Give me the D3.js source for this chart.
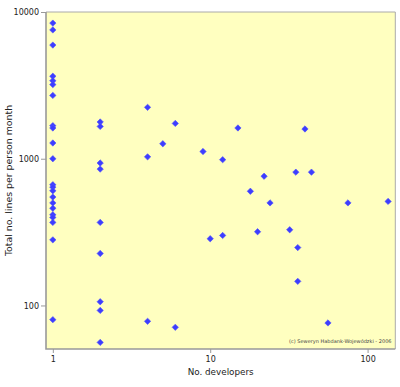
<!DOCTYPE html>
<html>
<head>
<meta charset="utf-8">
<script src="https://cdn.jsdelivr.net/npm/d3@7"></script>
<style>
  html, body { margin: 0; padding: 0; background: #ffffff; }
  svg { display: block; font-family: "DejaVu Sans", Verdana, sans-serif; }
</style>
</head>
<body>
<svg id="chart" width="400" height="387"></svg>
<script>
// Data: number of developers vs total lines per person month
const developers = [
  1, 1, 1, 1, 1, 1, 1, 1, 1, 1, 1, 1, 1, 1, 1, 1, 1, 1, 1, 1, 1, 1,
  2, 2, 2, 2, 2, 2, 2, 2, 2,
  4, 4, 4,
  5,
  6, 6,
  9,
  10,
  12, 12,
  15,
  18,
  20,
  22,
  24,
  32,
  35,
  36, 36,
  40,
  44,
  56,
  75,
  135
];
const linesPerMonth = [
  8400, 7550, 5950, 3650, 3400, 3200, 2700, 1680, 1620, 1280, 1000, 665, 640, 605, 548, 500, 460, 415, 398, 368, 280, 80,
  1780, 1660, 935, 850, 368, 226, 106, 92.5, 56,
  2240, 1030, 78,
  1265,
  1740, 71,
  1120,
  285,
  985, 300,
  1620,
  600,
  318,
  760,
  500,
  328,
  810,
  248, 146,
  1595,
  810,
  76,
  500,
  512
];
const xTicks = [1, 10, 100];
const yTicks = [100, 1000, 10000];
const xLabel = "No. developers";
const yLabel = "Total no. lines per person month";
const credit = "(c) Seweryn Habdank-Wojewódzki - 2006";

const svg = d3.select("#chart");
const plot = { left: 46, top: 12, right: 395.3, bottom: 349 };

const x = d3.scaleLog().domain([0.905, 150]).range([plot.left, plot.right]);
const y = d3.scaleLog().domain([50.5, 10000]).range([plot.bottom, plot.top]);

// plot background
svg.append("rect")
  .attr("x", plot.left).attr("y", plot.top)
  .attr("width", plot.right - plot.left).attr("height", plot.bottom - plot.top)
  .attr("fill", "#ffffc0");

// axes
const xAxis = d3.axisBottom(x).tickValues(xTicks).tickFormat(d3.format("d")).tickSize(4).tickPadding(3);
const yAxis = d3.axisLeft(y).tickValues(yTicks).tickFormat(d3.format("d")).tickSize(5).tickPadding(2);

const gx = svg.append("g").attr("transform", `translate(0,${plot.bottom})`).call(xAxis);
const gy = svg.append("g").attr("transform", `translate(${plot.left},0)`).call(yAxis);
[gx, gy].forEach(g => {
  g.select(".domain").remove();
  g.selectAll(".tick line").attr("stroke", "#999999");
  g.selectAll(".tick text").attr("fill", "#222222").style("font-size", "8px")
   .style("font-family", "'DejaVu Sans', Verdana, sans-serif");
});

// border: thin top/right, heavier left/bottom
svg.append("path")
  .attr("d", `M${plot.left},${plot.top}H${plot.right}V${plot.bottom}`)
  .attr("fill", "none").attr("stroke", "#aaaaaa").attr("stroke-width", 1);
svg.append("path")
  .attr("d", `M${plot.left},${plot.top}V${plot.bottom}H${plot.right}`)
  .attr("fill", "none").attr("stroke", "#999999").attr("stroke-width", 1.6);

// points
const diamond = d3.symbol().type(d3.symbolSquare).size(20);
svg.append("g").selectAll("path")
  .data(developers.map((d, i) => [d, linesPerMonth[i]]))
  .join("path")
  .attr("d", diamond)
  .attr("transform", d => `translate(${x(d[0])},${y(d[1])}) rotate(45)`)
  .attr("fill", "#3d3dff")
  .attr("stroke", "#5050ff")
  .attr("stroke-width", 0.6);

// labels
svg.append("text")
  .attr("x", (plot.left + plot.right) / 2).attr("y", 375)
  .attr("text-anchor", "middle")
  .style("font-size", "8.8px").attr("fill", "#222222")
  .text(xLabel);

svg.append("text")
  .attr("transform", `translate(12,${(plot.top + plot.bottom) / 2}) rotate(-90)`)
  .attr("text-anchor", "middle")
  .style("font-size", "9.4px").attr("fill", "#222222")
  .text(yLabel);

svg.append("text")
  .attr("x", 391.5).attr("y", 343)
  .attr("text-anchor", "end")
  .style("font-size", "5px").attr("fill", "#444444")
  .text(credit);
</script>
</body>
</html>
